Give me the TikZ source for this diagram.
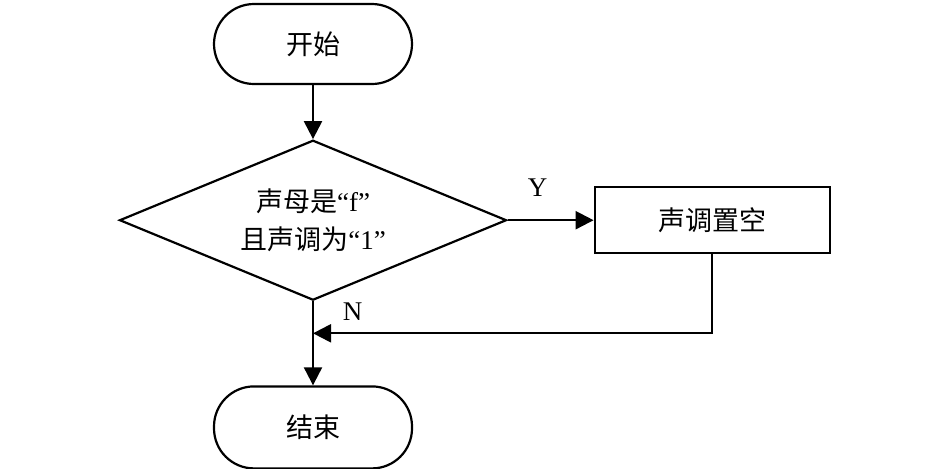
\documentclass[tikz,border=0pt]{standalone}
\usepackage{fontspec}
\setmainfont{Liberation Serif}
\newfontfamily\cjk{Noto Sans CJK SC}
\usetikzlibrary{arrows.meta, positioning, shapes.geometric}

\begin{document}
\begin{tikzpicture}[
  terminal/.style={rectangle, draw, rounded corners=20pt, line width=1.1pt,
                   minimum width=99pt, minimum height=40pt, align=center},
  process/.style={rectangle, draw, line width=1.1pt,
                  minimum width=117.5pt, minimum height=33pt, align=center},
  decision/.style={diamond, draw, line width=1.1pt, inner sep=0pt, aspect=2.4,
                   minimum width=193.5pt, minimum height=80pt, align=center},
  arrow/.style={-{Triangle[length=9pt, width=9pt]}, line width=1.1pt},
  font=\fontsize{13.5}{19}\selectfont,
]
\useasboundingbox (0,0) rectangle (472.5pt,-234pt);

\node[terminal] (start) at (156.5pt,-22pt) {\cjk 开始};

\node[decision, below=27pt of start] (decide)
  {{\cjk 声母是}“f”\\{\cjk 且声调为}“1”};

\node[process, right=43pt of decide] (fix) {\cjk 声调置空};

\node[terminal, below=42pt of decide, minimum height=41pt] (stop) {\cjk 结束};

\coordinate[below=16pt of decide.south] (merge);

% ---- 连线 ----
\draw[arrow] (start)  -- (decide);
\draw[arrow] (decide) -- node[pos=0.35, above=8pt] {Y} (fix);
\draw[arrow] (fix.south) |- (merge);
\draw[arrow] (decide) -- node[pos=0.12, right=11pt] {N} (stop);

\end{tikzpicture}
\end{document}
